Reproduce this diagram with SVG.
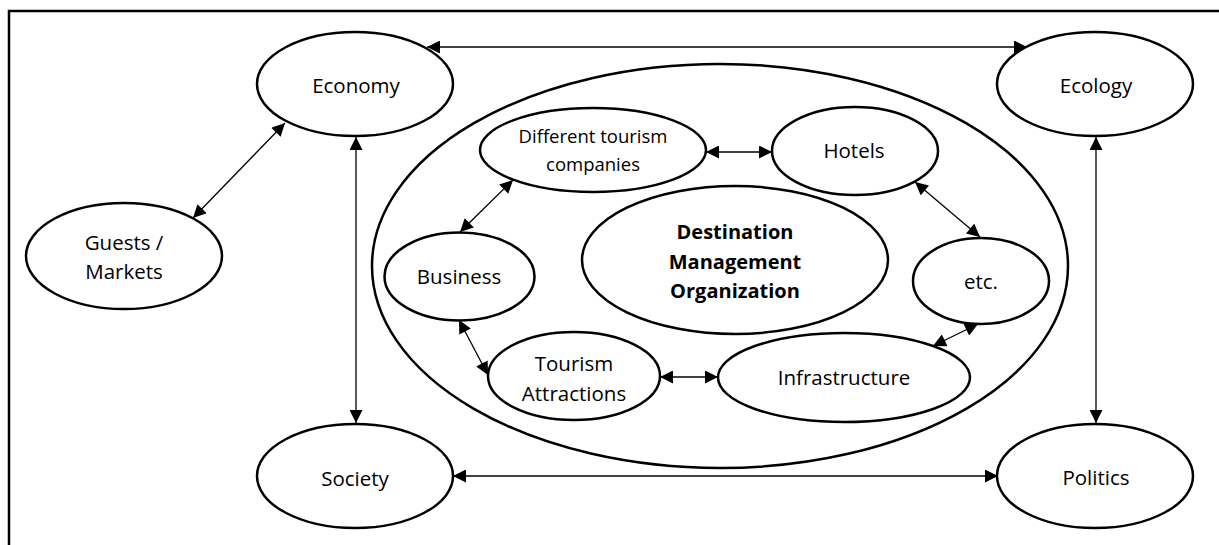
<svg xmlns="http://www.w3.org/2000/svg" width="1219" height="545" viewBox="0 0 1219 545">
<style>
.n{fill:#fff;stroke:#000;stroke-width:2.5}
.t{font-family:"Open Sans","Liberation Sans",sans-serif;font-size:20.5px;fill:#000;text-anchor:middle}
.s{font-size:18.5px}
.b{font-weight:bold;font-size:20px}
.c{stroke:#000;stroke-width:1.3;fill:none;marker-start:url(#a);marker-end:url(#a)}
</style>
<defs>
<marker id="a" viewBox="0 0 10 10" refX="10" refY="5" markerWidth="14" markerHeight="13" markerUnits="userSpaceOnUse" orient="auto-start-reverse">
<path d="M0,0 L10,5 L0,10 Z" fill="#000"/>
</marker>
</defs>
<rect x="0" y="0" width="1219" height="545" fill="#fff"/>
<path d="M9,545 V11 H1219" fill="none" stroke="#000" stroke-width="2.5"/>
<g id="dmo-area"><ellipse class="n" cx="720" cy="266" rx="348" ry="202"/></g>
<g id="economy"><ellipse class="n" cx="355" cy="84" rx="98" ry="52"/><text class="t" x="356" y="93">Economy</text></g>
<g id="ecology"><ellipse class="n" cx="1095" cy="84" rx="98" ry="52"/><text class="t" x="1096" y="93">Ecology</text></g>
<g id="guests"><ellipse class="n" cx="124" cy="256" rx="98" ry="53"/><text class="t" x="124" y="250">Guests /</text><text class="t" x="124" y="279">Markets</text></g>
<g id="society"><ellipse class="n" cx="355" cy="476" rx="98" ry="52"/><text class="t" x="355" y="486">Society</text></g>
<g id="politics"><ellipse class="n" cx="1095" cy="476" rx="98" ry="52"/><text class="t" x="1096" y="485">Politics</text></g>
<g id="companies"><ellipse class="n" cx="593" cy="150" rx="113" ry="42"/><text class="t s" x="593" y="143">Different tourism</text><text class="t s" x="593" y="171">companies</text></g>
<g id="hotels"><ellipse class="n" cx="855" cy="151" rx="83" ry="44"/><text class="t" x="854" y="158">Hotels</text></g>
<g id="dmo"><ellipse class="n" cx="735" cy="260" rx="153" ry="74"/><text class="t b" x="735" y="239">Destination</text><text class="t b" x="735" y="269">Management</text><text class="t b" x="735" y="298">Organization</text></g>
<g id="business"><ellipse class="n" cx="459.5" cy="276.5" rx="75" ry="44"/><text class="t" x="459" y="284">Business</text></g>
<g id="etc"><ellipse class="n" cx="981" cy="281" rx="68" ry="43"/><text class="t" x="981" y="289">etc.</text></g>
<g id="attractions"><ellipse class="n" cx="574" cy="376" rx="86" ry="44"/><text class="t" x="574" y="371">Tourism</text><text class="t" x="574" y="401">Attractions</text></g>
<g id="infrastructure"><ellipse class="n" cx="844" cy="377.5" rx="126" ry="44.5"/><text class="t" x="844" y="385">Infrastructure</text></g>
<g id="connectors">
<line class="c" x1="427" y1="47" x2="1027" y2="47"/>
<line class="c" x1="356" y1="137" x2="356" y2="423"/>
<line class="c" x1="1096" y1="137" x2="1096" y2="423"/>
<line class="c" x1="453" y1="476" x2="998" y2="476"/>
<line class="c" x1="285" y1="123" x2="193" y2="218"/>
<line class="c" x1="706" y1="152" x2="772" y2="152"/>
<line class="c" x1="513" y1="180" x2="460" y2="232"/>
<line class="c" x1="459" y1="320" x2="488" y2="375"/>
<line class="c" x1="660" y1="377" x2="718" y2="377"/>
<line class="c" x1="915" y1="182" x2="980" y2="237"/>
<line class="c" x1="978" y1="324" x2="933" y2="346"/>
</g>
</svg>
